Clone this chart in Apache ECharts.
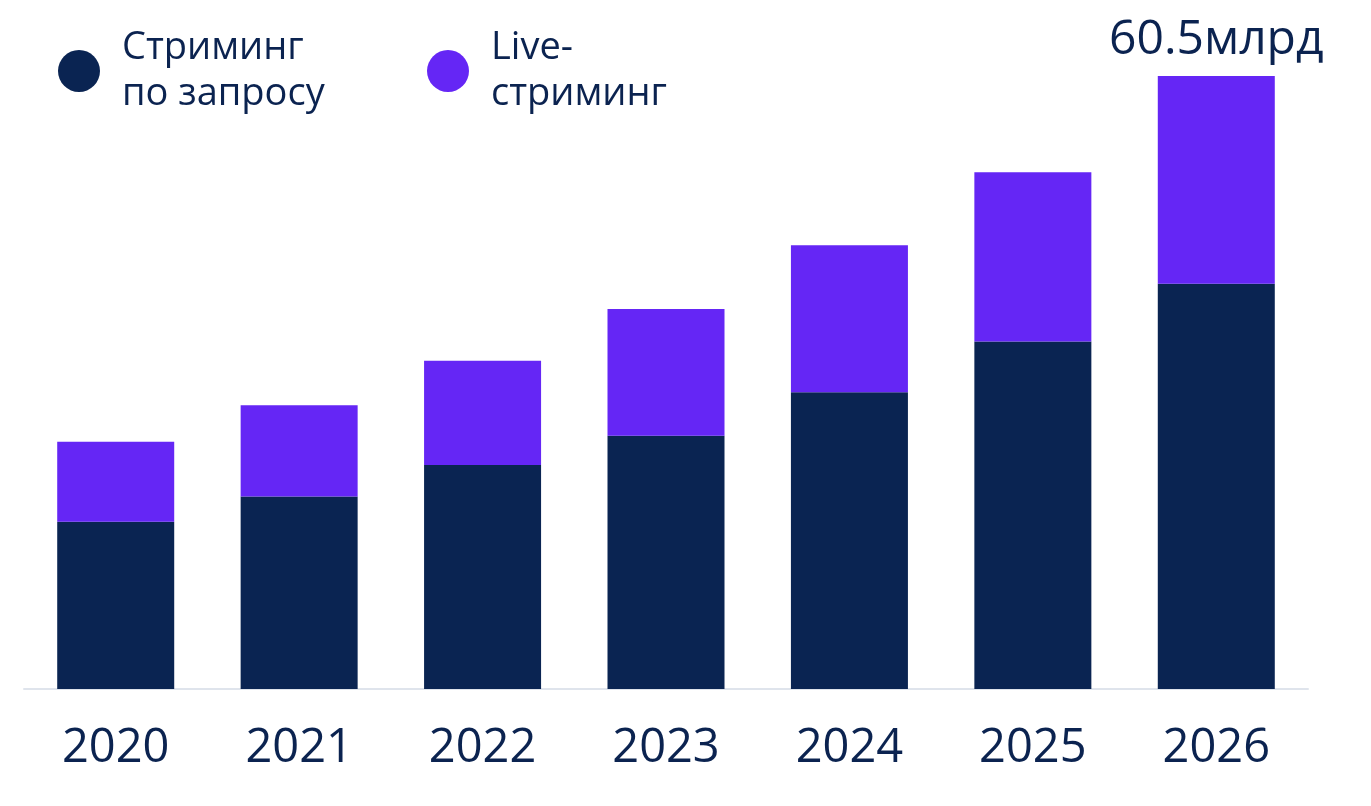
<!DOCTYPE html>
<html>
<head>
<meta charset="utf-8">
<script src="https://cdn.jsdelivr.net/npm/echarts@6/dist/echarts.min.js"></script>
<style>
html,body{margin:0;padding:0;background:#fff;}
#c{width:1371px;height:806px;}
</style>
</head>
<body>
<div id="c"></div>
<script>
const categories = ['2020','2021','2022','2023','2024','2025','2026'];
const onDemand = [16.5, 19.0, 22.1, 25.0, 29.3, 34.3, 40.0];
const live = [7.9, 9.0, 10.3, 12.5, 14.5, 16.7, 20.5];
const seriesNames = ['Стриминг\nпо запросу', 'Live-\nстриминг'];
const totalLabel = '60.5млрд';

const navy = '#0a2452';
const purple = '#6526f5';
const textColor = '#0b2350';
const font = 'Open Sans';

const chart = echarts.init(document.getElementById('c'));
const legendText = {
  fontSize: 38, lineHeight: 46, color: textColor, fontFamily: font,
  padding: [0, 0, 0, 17]
};
chart.setOption({
  animation: false,
  legend: [
    { data: [seriesNames[0]], left: 53, top: 20, icon: 'circle', itemWidth: 42, itemHeight: 42, textStyle: legendText, selectedMode: false },
    { data: [seriesNames[1]], left: 422, top: 20, icon: 'circle', itemWidth: 42, itemHeight: 42, textStyle: legendText, selectedMode: false }
  ],
  grid: { left: 24, right: 63, top: 76, bottom: 117, containLabel: false },
  xAxis: {
    type: 'category',
    data: categories,
    axisLine: { lineStyle: { color: '#dfe4ec', width: 2 } },
    axisTick: { show: false },
    axisLabel: { fontSize: 47, lineHeight: 56, color: textColor, fontFamily: font, margin: 32 }
  },
  yAxis: {
    type: 'value', min: 0, max: 'dataMax',
    show: false, splitLine: { show: false }
  },
  series: [
    {
      name: seriesNames[0], type: 'bar', stack: 'a', barWidth: 117,
      itemStyle: { color: navy },
      data: onDemand
    },
    {
      name: seriesNames[1], type: 'bar', stack: 'a', barWidth: 117,
      itemStyle: { color: purple },
      data: live.map((v, i) => i === live.length - 1 ? {
        value: v,
        label: { show: true, position: 'top', distance: 12, formatter: totalLabel, fontSize: 48, color: textColor, fontFamily: font }
      } : v)
    }
  ]
});
</script>
</body>
</html>
